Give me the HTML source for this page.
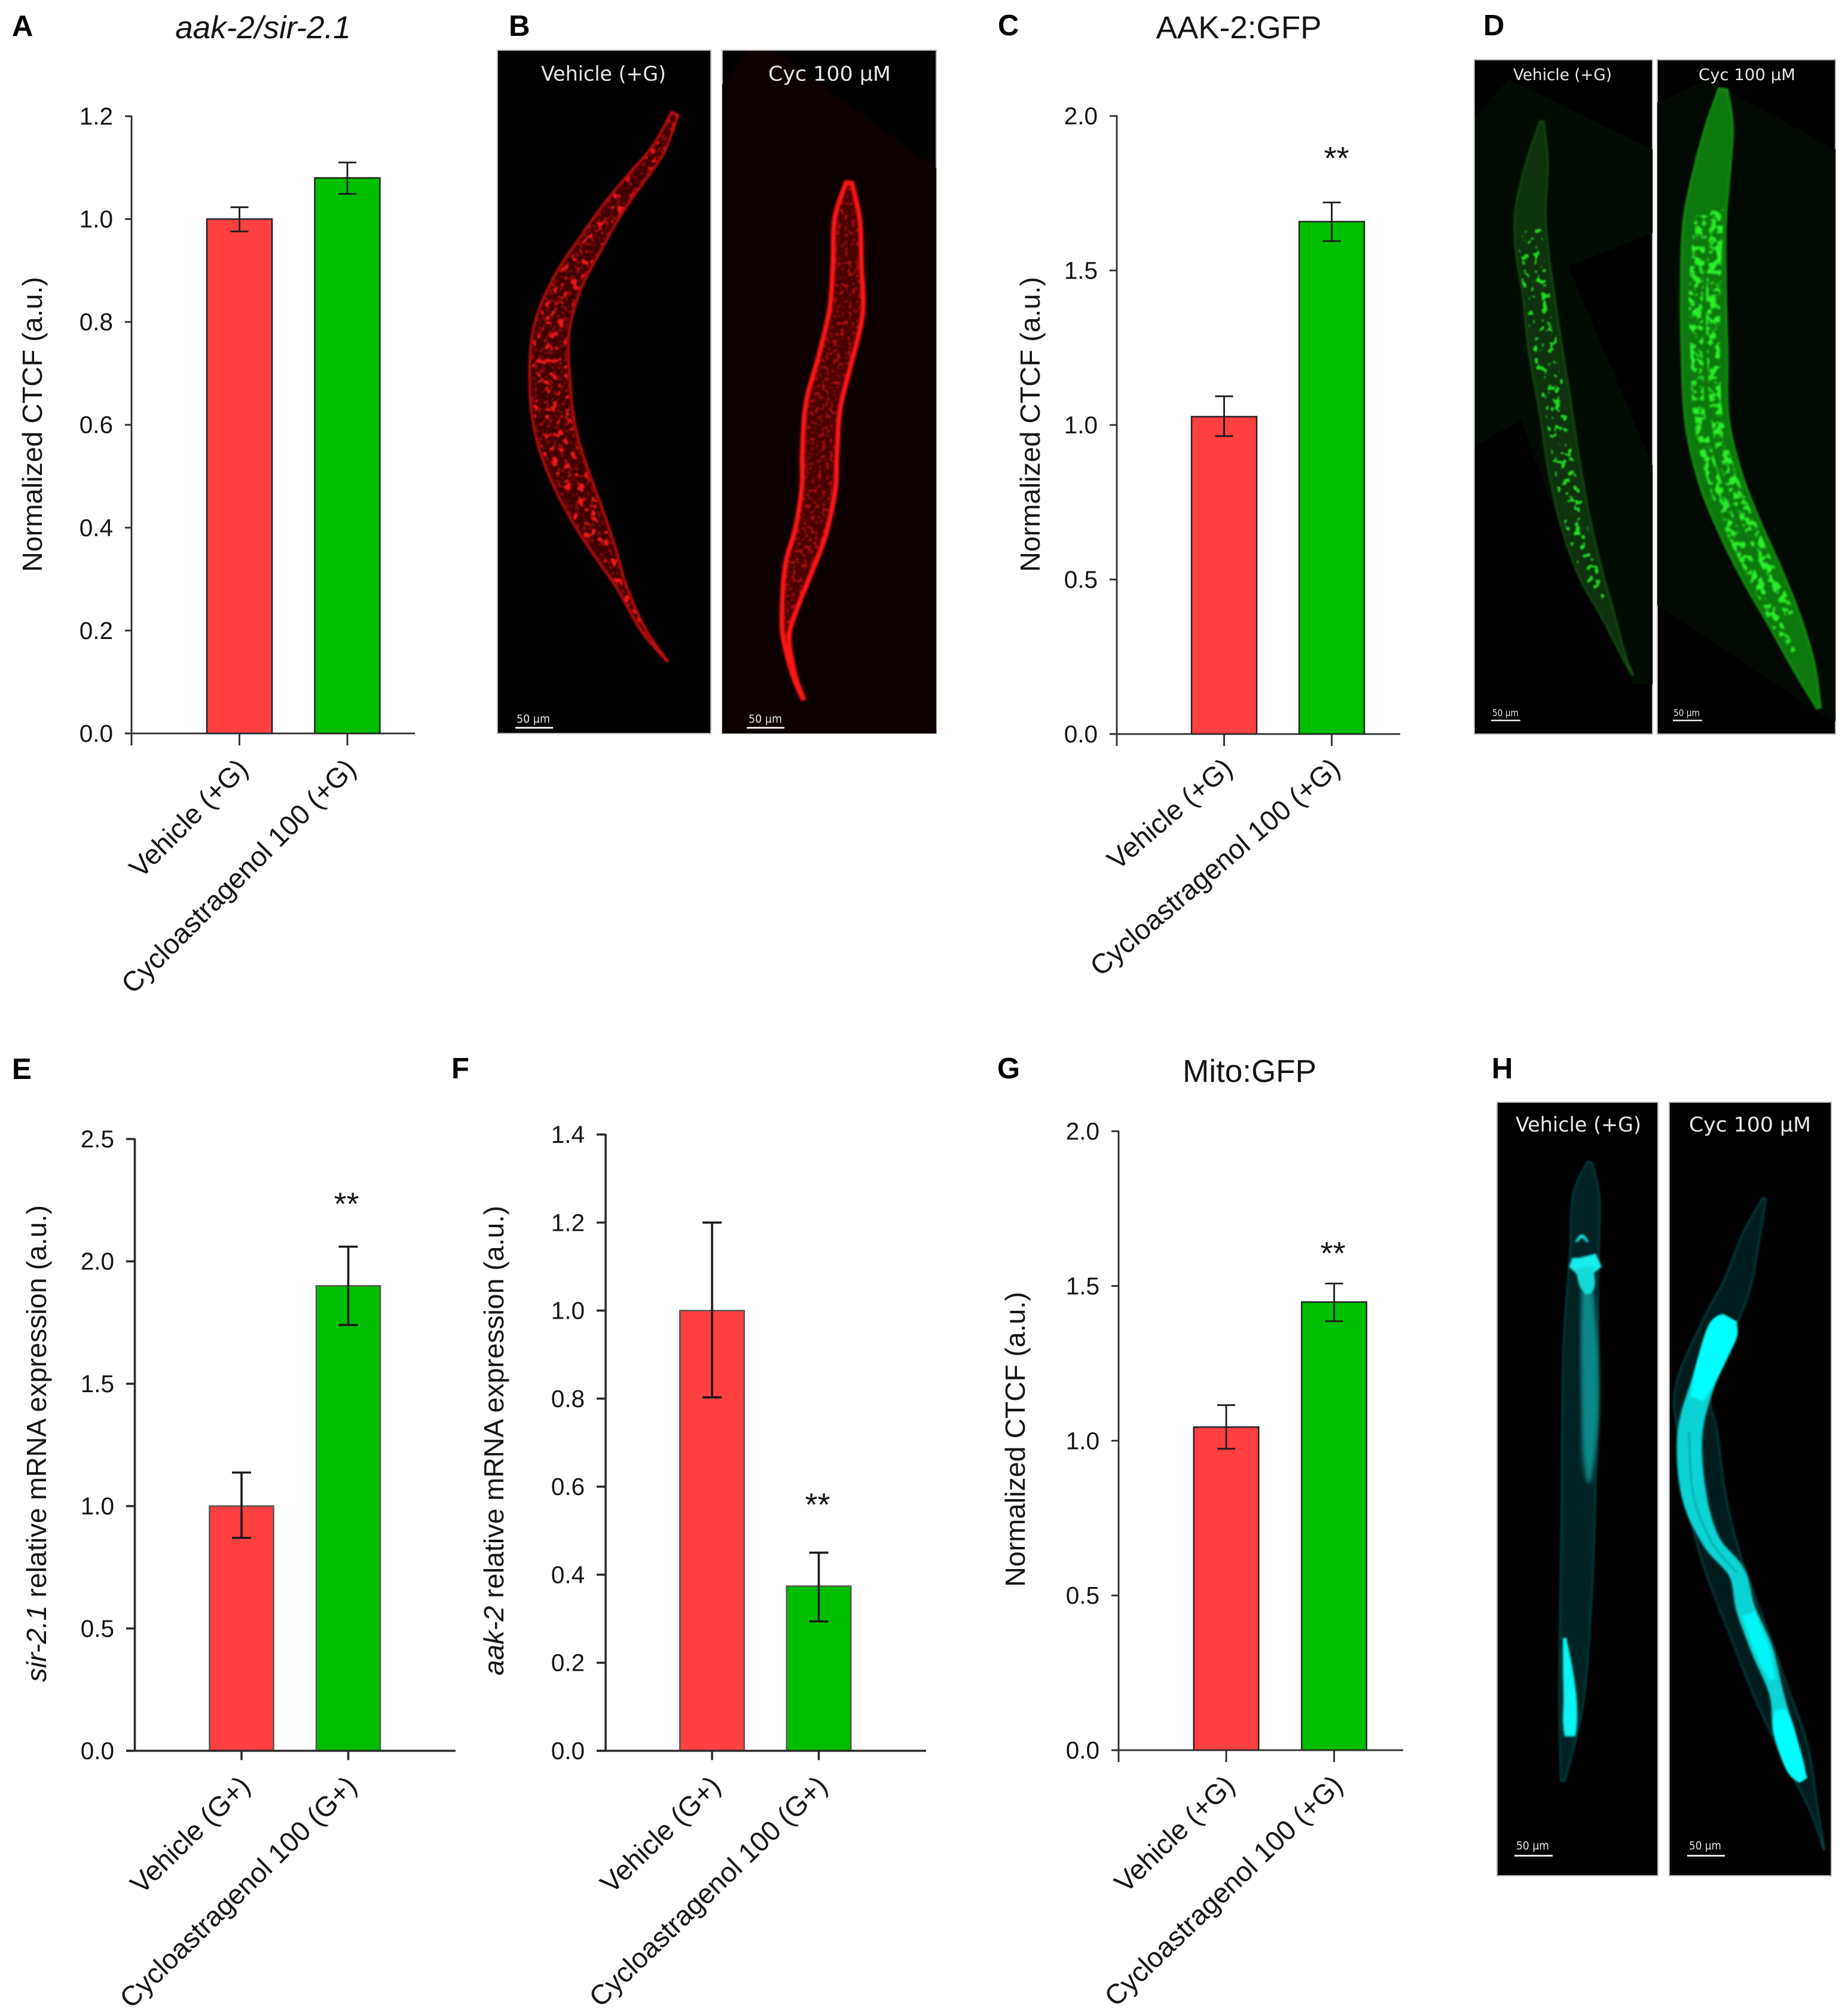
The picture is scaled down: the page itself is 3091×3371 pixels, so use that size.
<!DOCTYPE html>
<html lang="en">
<head>
<meta charset="utf-8">
<title>Cycloastragenol figure</title>
<style>
html,body{margin:0;padding:0;background:#fff}
svg{display:block}
text{font-family:"Liberation Sans",Arial,sans-serif;fill:#141414}
.micro{font-family:"DejaVu Sans",sans-serif;fill:#e8e8e8}
.letter{font-weight:700;font-size:49px;fill:#000}
.title{font-size:53px}
.ytitle{font-size:46.5px;text-anchor:middle}
</style>
</head>
<body>
<svg id="fig" xmlns="http://www.w3.org/2000/svg" width="3091" height="3371" viewBox="0 0 3091 3371">
<defs>
<clipPath id="clip-b1"><rect x="832" y="84" width="357" height="1143"/></clipPath>
<clipPath id="clip-b2"><rect x="1208" y="84" width="358" height="1143"/></clipPath>
<clipPath id="clip-d1"><rect x="2466" y="100" width="298" height="1128"/></clipPath>
<clipPath id="clip-d2"><rect x="2772" y="100" width="298" height="1128"/></clipPath>
<clipPath id="clip-h1"><rect x="2504" y="1844" width="269" height="1294"/></clipPath>
<clipPath id="clip-h2"><rect x="2792" y="1844" width="271" height="1294"/></clipPath>
<filter id="speck-fine" x="-5%" y="-5%" width="110%" height="110%" color-interpolation-filters="sRGB">
<feTurbulence type="fractalNoise" baseFrequency="0.16" numOctaves="2" seed="4"/>
<feColorMatrix values="0 0 0 0 0 0 0 0 0 0 0 0 0 0 0 1 0 0 0 0"/>
<feComponentTransfer><feFuncA type="linear" slope="10" intercept="-5.5"/></feComponentTransfer>
<feComposite in="SourceGraphic" operator="in"/>
<feGaussianBlur stdDeviation="1.2"/>
</filter>
<filter id="blob-sparse" x="-5%" y="-5%" width="110%" height="110%" color-interpolation-filters="sRGB">
<feTurbulence type="fractalNoise" baseFrequency="0.09" numOctaves="2" seed="9"/>
<feColorMatrix values="0 0 0 0 0 0 0 0 0 0 0 0 0 0 0 1 0 0 0 0"/>
<feComponentTransfer><feFuncA type="linear" slope="14" intercept="-8.2"/></feComponentTransfer>
<feComposite in="SourceGraphic" operator="in"/>
<feGaussianBlur stdDeviation="1.2"/>
</filter>
<filter id="blob-dense" x="-5%" y="-5%" width="110%" height="110%" color-interpolation-filters="sRGB">
<feTurbulence type="fractalNoise" baseFrequency="0.085" numOctaves="2" seed="12"/>
<feColorMatrix values="0 0 0 0 0 0 0 0 0 0 0 0 0 0 0 1 0 0 0 0"/>
<feComponentTransfer><feFuncA type="linear" slope="12" intercept="-5.8"/></feComponentTransfer>
<feComposite in="SourceGraphic" operator="in"/>
<feGaussianBlur stdDeviation="1.6"/>
</filter>
<filter id="soft" x="-10%" y="-10%" width="120%" height="120%"><feGaussianBlur stdDeviation="1.8"/></filter>
<filter id="soft-more" x="-10%" y="-10%" width="120%" height="120%"><feGaussianBlur stdDeviation="4"/></filter>
</defs>

<text class="letter" x="20" y="60">A</text>
<text class="letter" x="851" y="60">B</text>
<text class="letter" x="1669" y="59">C</text>
<text class="letter" x="2481" y="59">D</text>
<text class="letter" x="20" y="1805">E</text>
<text class="letter" x="755" y="1804">F</text>
<text class="letter" x="1668" y="1804">G</text>
<text class="letter" x="2495" y="1804">H</text>

<text class="title" x="440" y="64" text-anchor="middle" font-style="italic">aak-2/sir-2.1</text>
<text class="title" x="2072" y="64" text-anchor="middle">AAK-2:GFP</text>
<text class="title" x="2090" y="1810" text-anchor="middle">Mito:GFP</text>

<text class="ytitle" transform="translate(70,710) rotate(-90)">Normalized CTCF (a.u.)</text>
<text class="ytitle" transform="translate(1739,710) rotate(-90)">Normalized CTCF (a.u.)</text>
<text class="ytitle" transform="translate(77,2415) rotate(-90)"><tspan font-style="italic">sir-2.1</tspan> relative mRNA expression (a.u.)</text>
<text class="ytitle" transform="translate(842,2410) rotate(-90)"><tspan font-style="italic">aak-2</tspan> relative mRNA expression (a.u.)</text>
<text class="ytitle" transform="translate(1714,2408) rotate(-90)">Normalized CTCF (a.u.)</text>

<g id="chart-a"></g>
<g id="chart-c"></g>
<g id="chart-e"></g>
<g id="chart-f"></g>
<g id="chart-g"></g>

<!-- Micrographs -->
<g>
<rect x="832" y="84" width="357" height="1143" fill="#000" stroke="#b5b5b5" stroke-width="2"/>
<g id="worm-b1" clip-path="url(#clip-b1)"></g>
<text class="micro" x="905" y="135" font-size="34" textLength="209" lengthAdjust="spacingAndGlyphs">Vehicle (+G)</text>
<text class="micro" x="864" y="1209" font-size="19" textLength="56" lengthAdjust="spacingAndGlyphs">50 µm</text>
<rect x="862" y="1216" width="63" height="3" fill="#e8e8e8"/>
</g>
<g>
<rect x="1208" y="84" width="358" height="1143" fill="#000" stroke="#b5b5b5" stroke-width="2"/>
<polygon points="1208,141 1252,85 1295,85 1566,281 1566,1227 1208,1227" fill="#0c0000"/>
<g id="worm-b2" clip-path="url(#clip-b2)"></g>
<text class="micro" x="1285" y="135" font-size="34" textLength="205" lengthAdjust="spacingAndGlyphs">Cyc 100 µM</text>
<text class="micro" x="1252" y="1209" font-size="19" textLength="56" lengthAdjust="spacingAndGlyphs">50 µm</text>
<rect x="1249" y="1216" width="63" height="3" fill="#e8e8e8"/>
</g>
<g>
<rect x="2466" y="100" width="298" height="1128" fill="#000" stroke="#b5b5b5" stroke-width="2"/>
<polygon points="2467,196 2523,133 2764,250 2764,390 2623,445 2764,779 2764,1145 2731,1145 2585,818 2544,701 2467,748" fill="#020b02"/>
<g id="worm-d1" clip-path="url(#clip-d1)"></g>
<text class="micro" x="2531" y="134" font-size="27" textLength="165" lengthAdjust="spacingAndGlyphs">Vehicle (+G)</text>
<text class="micro" x="2496" y="1198" font-size="16" textLength="44" lengthAdjust="spacingAndGlyphs">50 µm</text>
<rect x="2494" y="1204" width="49" height="2.5" fill="#e8e8e8"/>
</g>
<g>
<rect x="2772" y="100" width="298" height="1128" fill="#000" stroke="#b5b5b5" stroke-width="2"/>
<polygon points="2772,172 2855,133 3070,250 3070,1207 3042,1192 2772,1013" fill="#020902"/>
<g id="worm-d2" clip-path="url(#clip-d2)"></g>
<text class="micro" x="2841" y="134" font-size="27" textLength="162" lengthAdjust="spacingAndGlyphs">Cyc 100 µM</text>
<text class="micro" x="2799" y="1198" font-size="16" textLength="44" lengthAdjust="spacingAndGlyphs">50 µm</text>
<rect x="2798" y="1204" width="49" height="2.5" fill="#e8e8e8"/>
</g>
<g>
<rect x="2504" y="1844" width="269" height="1294" fill="#000" stroke="#b5b5b5" stroke-width="2"/>
<g id="worm-h1" clip-path="url(#clip-h1)"></g>
<text class="micro" x="2535" y="1893" font-size="34" textLength="210" lengthAdjust="spacingAndGlyphs">Vehicle (+G)</text>
<text class="micro" x="2536" y="3094" font-size="19" textLength="55" lengthAdjust="spacingAndGlyphs">50 µm</text>
<rect x="2533" y="3103" width="64" height="3" fill="#e8e8e8"/>
</g>
<g>
<rect x="2792" y="1844" width="271" height="1294" fill="#000" stroke="#b5b5b5" stroke-width="2"/>
<g id="worm-h2" clip-path="url(#clip-h2)"></g>
<text class="micro" x="2825" y="1893" font-size="34" textLength="204" lengthAdjust="spacingAndGlyphs">Cyc 100 µM</text>
<text class="micro" x="2825" y="3094" font-size="19" textLength="54" lengthAdjust="spacingAndGlyphs">50 µm</text>
<rect x="2822" y="3103" width="63" height="3" fill="#e8e8e8"/>
</g>
</svg>

<script>
/* ---------- chart data ---------- */
const chartA_categories = ['Vehicle (+G)', 'Cycloastragenol 100 (+G)'];
const chartA_values = [1.0, 1.08];
const chartA_errHigh = [1.023, 1.11];
const chartA_errLow = [0.976, 1.049];
const chartA_ticks = [0, 0.2, 0.4, 0.6, 0.8, 1.0, 1.2];
const chartA_marks = ['', ''];

const chartC_categories = ['Vehicle (+G)', 'Cycloastragenol 100 (+G)'];
const chartC_values = [1.027, 1.658];
const chartC_errHigh = [1.093, 1.72];
const chartC_errLow = [0.964, 1.595];
const chartC_ticks = [0, 0.5, 1.0, 1.5, 2.0];
const chartC_marks = ['', '**'];

const chartE_categories = ['Vehicle (G+)', 'Cycloastragenol 100 (G+)'];
const chartE_values = [1.0, 1.9];
const chartE_errHigh = [1.137, 2.06];
const chartE_errLow = [0.87, 1.74];
const chartE_ticks = [0, 0.5, 1.0, 1.5, 2.0, 2.5];
const chartE_marks = ['', '**'];

const chartF_categories = ['Vehicle (G+)', 'Cycloastragenol 100 (G+)'];
const chartF_values = [1.0, 0.374];
const chartF_errHigh = [1.2, 0.45];
const chartF_errLow = [0.803, 0.294];
const chartF_ticks = [0, 0.2, 0.4, 0.6, 0.8, 1.0, 1.2, 1.4];
const chartF_marks = ['', '**'];

const chartG_categories = ['Vehicle (+G)', 'Cycloastragenol 100 (+G)'];
const chartG_values = [1.044, 1.448];
const chartG_errHigh = [1.115, 1.508];
const chartG_errLow = [0.974, 1.386];
const chartG_ticks = [0, 0.5, 1.0, 1.5, 2.0];
const chartG_marks = ['', '**'];

const SVGNS = 'http://www.w3.org/2000/svg';
function mk(tag, attrs, parent) {
  const el = document.createElementNS(SVGNS, tag);
  for (const k in attrs) el.setAttribute(k, attrs[k]);
  parent.appendChild(el);
  return el;
}

function drawChart(id, data, frame) {
  const root = document.getElementById(id);
  const yScale = v => frame.yBottom + (frame.yTop - frame.yBottom) * v / frame.yMax;
  const xScale = i => frame.xFirst + frame.xStep * i;
  const lineColor = frame.lineColor;
  const barFills = ['#ff4040', '#00bf00'];
  const barNames = ['vehicle', 'cycloastragenol'];

  data.values.forEach((v, i) => {
    const bar = mk('rect', {x: xScale(i) - frame.barWidth / 2, y: yScale(v), width: frame.barWidth, height: frame.yBottom - yScale(v), fill: barFills[i], stroke: frame.barStroke, 'stroke-width': 2.5}, root);
    
    
  });

  data.values.forEach((v, i) => {
    const cx = xScale(i), hi = yScale(data.errHigh[i]), lo = yScale(data.errLow[i]);
    const err = mk('path', {d: 'M' + cx + ' ' + hi + 'V' + lo + 'M' + (cx - frame.cap) + ' ' + hi + 'H' + (cx + frame.cap) + 'M' + (cx - frame.cap) + ' ' + lo + 'H' + (cx + frame.cap), stroke: '#1a1a1a', 'stroke-width': frame.lineWidth, fill: 'none'}, root);
    
    
    if (data.marks[i]) {
      const star = mk('text', {x: cx + frame.starDx, y: hi - frame.starGap + 26, 'text-anchor': 'middle', 'font-size': 54}, root);
      star.textContent = data.marks[i];
      
      
    }
  });

  const yAxis = mk('line', {x1: frame.axisX, x2: frame.axisX, y1: yScale(frame.yMax) - 1, y2: frame.yBottom + frame.axisBelow, stroke: lineColor, 'stroke-width': frame.lineWidth}, root);
  
  
  const xAxis = mk('line', {x1: frame.tickStart, x2: frame.xEnd, y1: frame.yBottom, y2: frame.yBottom, stroke: lineColor, 'stroke-width': frame.lineWidth}, root);
  
  

  data.ticks.forEach(t => {
    const yy = yScale(t);
    const tick = mk('line', {x1: frame.tickStart, x2: frame.axisX, y1: yy, y2: yy, stroke: lineColor, 'stroke-width': frame.lineWidth}, root);
    
    
    const lab = mk('text', {x: frame.tickStart - 20, y: yy + 14, 'text-anchor': 'end', 'font-size': 40.5}, root);
    lab.textContent = t.toFixed(1);
    
    
  });

  data.categories.forEach((c, i) => {
    const cx = xScale(i);
    const tick = mk('line', {x1: cx, x2: cx, y1: frame.yBottom, y2: frame.yBottom + frame.tickBelow, stroke: lineColor, 'stroke-width': frame.lineWidth}, root);
    
    
    const ax = cx + 17, ay = frame.yBottom + 62;
    const lab = mk('text', {x: 0, y: 0, 'text-anchor': 'end', 'font-size': 46.5, transform: 'translate(' + ax + ',' + ay + ') rotate(' + frame.labelAngle + ')'}, root);
    lab.textContent = c;
    
    
  });
}

drawChart('chart-a',
  {categories: chartA_categories, values: chartA_values, errHigh: chartA_errHigh, errLow: chartA_errLow, ticks: chartA_ticks, marks: chartA_marks},
  {yMax: 1.2, yBottom: 1227, yTop: 194.4, axisX: 220, tickStart: 209, xEnd: 694, xFirst: 400.5, xStep: 180.5, barWidth: 109, cap: 15, lineWidth: 2.8, lineColor: '#2c2c2c', barStroke: '#222', axisBelow: 20, tickBelow: 20, starGap: 80, starDx: 0, labelAngle: -45});
drawChart('chart-c',
  {categories: chartC_categories, values: chartC_values, errHigh: chartC_errHigh, errLow: chartC_errLow, ticks: chartC_ticks, marks: chartC_marks},
  {yMax: 2, yBottom: 1228, yTop: 194, axisX: 1868, tickStart: 1856, xEnd: 2342, xFirst: 2047.5, xStep: 180, barWidth: 109, cap: 15, lineWidth: 2.8, lineColor: '#2c2c2c', barStroke: '#222', axisBelow: 20, tickBelow: 20, starGap: 82, starDx: 8, labelAngle: -40.5});
drawChart('chart-e',
  {categories: chartE_categories, values: chartE_values, errHigh: chartE_errHigh, errLow: chartE_errLow, ticks: chartE_ticks, marks: chartE_marks},
  {yMax: 2.5, yBottom: 2929, yTop: 1905.5, axisX: 225.5, tickStart: 211, xEnd: 762, xFirst: 404, xStep: 178.5, barWidth: 107, cap: 16, lineWidth: 3.6, lineColor: '#2c2c2c', barStroke: '#555', axisBelow: 0, tickBelow: 15.5, starGap: 79, starDx: -3, labelAngle: -44.3});
drawChart('chart-f',
  {categories: chartF_categories, values: chartF_values, errHigh: chartF_errHigh, errLow: chartF_errLow, ticks: chartF_ticks, marks: chartF_marks},
  {yMax: 1.4, yBottom: 2929, yTop: 1898, axisX: 1013, tickStart: 998, xEnd: 1549, xFirst: 1191, xStep: 178.5, barWidth: 107.5, cap: 16, lineWidth: 3.6, lineColor: '#2c2c2c', barStroke: '#555', axisBelow: 0, tickBelow: 15.5, starGap: 88, starDx: -2, labelAngle: -44});
drawChart('chart-g',
  {categories: chartG_categories, values: chartG_values, errHigh: chartG_errHigh, errLow: chartG_errLow, ticks: chartG_ticks, marks: chartG_marks},
  {yMax: 2, yBottom: 2928, yTop: 1892.5, axisX: 1871, tickStart: 1859, xEnd: 2347, xFirst: 2051, xStep: 180.5, barWidth: 108.5, cap: 15, lineWidth: 2.8, lineColor: '#2c2c2c', barStroke: '#222', axisBelow: 20, tickBelow: 20, starGap: 58, starDx: -2, labelAngle: -44});

/* ---------- micrograph illustration geometry (image content, not chart data) ---------- */
function sample(pts) {
  const out = [];
  for (let i = 0; i < pts.length - 1; i++) {
    const p0 = pts[Math.max(i - 1, 0)], p1 = pts[i], p2 = pts[i + 1], p3 = pts[Math.min(i + 2, pts.length - 1)];
    for (let s = 0; s < 10; s++) {
      const t = s / 10, t2 = t * t, t3 = t2 * t;
      const f = k => 0.5 * (2 * p1[k] + (p2[k] - p0[k]) * t + (2 * p0[k] - 5 * p1[k] + 4 * p2[k] - p3[k]) * t2 + (3 * p1[k] - p0[k] - 3 * p2[k] + p3[k]) * t3);
      out.push([f(0), f(1), Math.max(f(2), 0.5)]);
    }
  }
  out.push(pts[pts.length - 1]);
  return out;
}
function outline(pts, k) {
  const s = sample(pts), L = [], R = [];
  s.forEach((p, i) => {
    const a = s[Math.max(i - 1, 0)], b = s[Math.min(i + 1, s.length - 1)];
    let dx = b[0] - a[0], dy = b[1] - a[1];
    const m = Math.hypot(dx, dy) || 1; dx /= m; dy /= m;
    const h = p[2] * k / 2;
    L.push((p[0] - dy * h).toFixed(1) + ',' + (p[1] + dx * h).toFixed(1));
    R.unshift((p[0] + dy * h).toFixed(1) + ',' + (p[1] - dx * h).toFixed(1));
  });
  return 'M' + L.join('L') + 'L' + R.join('L') + 'Z';
}
function centerPath(pts) {
  return 'M' + sample(pts).map(p => p[0].toFixed(1) + ',' + p[1].toFixed(1)).join('L');
}
function layer(g, name, attrs) {
  const el = mk('path', attrs, g);
  
  
  return el;
}

const wormB1 = [[1129,190,12],[1101,250,22],[1065,297,28],[1024,351,34],[984,414,42],[948,476,50],[922,554,60],[920,647,68],[930,725,68],[953,795,64],[984,865,54],[1014,927,36],[1040,982,16],[1075,1052,8],[1116,1106,1]];
const wormB2 = [[1420,306,10],[1417,367,42],[1417,445,48],[1415,522,56],[1397,600,56],[1377,678,58],[1371,756,58],[1369,818,56],[1356,888,52],[1336,950,46],[1320,1020,24],[1315,1067,10],[1328,1129,4],[1343,1168,1]];
const wormD1 = [[2579,203,6],[2571,273,36],[2560,351,50],[2562,414,54],[2573,491,52],[2585,585,56],[2602,686,54],[2616,779,54],[2635,873,50],[2660,958,40],[2689,1028,22],[2716,1098,6],[2731,1129,1]];
const bandD1 = [[2558,385,40],[2570,491,44],[2585,585,42],[2602,686,36],[2616,779,34],[2635,873,36],[2660,958,28],[2680,1010,12]];
const wormD2 = [[2882,149,14],[2876,211,44],[2863,289,60],[2851,375,70],[2849,476,74],[2851,585,76],[2855,701,72],[2876,795,72],[2909,880,70],[2946,958,66],[2984,1036,54],[3017,1114,36],[3042,1184,6]];
const strandD2a = [[2846,360,22],[2837,476,24],[2838,585,22],[2843,701,20],[2866,800,22],[2898,888,22],[2935,966,20],[2972,1044,18],[3000,1090,8]];
const strandD2b = [[2872,350,22],[2866,476,24],[2866,585,22],[2872,701,20],[2892,790,22],[2924,872,22],[2958,950,20],[2994,1028,16]];
const wormH1 = [[2659,1944,8],[2653,2001,44],[2650,2097,48],[2644,2237,56],[2642,2377,58],[2640,2517,56],[2636,2674,52],[2628,2849,40],[2614,2980,6]];
const bandH1 = [[2655,2160,20],[2658,2240,28],[2660,2340,30],[2658,2430,22],[2657,2480,6]];
const arcH1 = [[2636,2078,3],[2646,2068,6],[2656,2078,3]];
const patchH1a = [[2627,2112,16],[2650,2118,32],[2674,2108,24]];
const patchH1b = [[2650,2120,30],[2655,2150,26],[2656,2165,10]];
const tailH1 = [[2617,2740,6],[2622,2790,16],[2626,2840,22],[2626,2880,24],[2626,2905,18]];
const wormH2 = [[2951,2005,6],[2928,2071,30],[2905,2150,46],[2870,2228,56],[2831,2325,58],[2840,2403,66],[2854,2508,66],[2881,2613,64],[2920,2718,62],[2963,2832,58],[3002,2928,46],[3033,3024,14],[3051,3094,1]];
const bandH2 = [[2893,2205,26],[2881,2228,50],[2854,2298,40],[2827,2395,42],[2833,2499,42],[2862,2578,30],[2905,2631,28],[2920,2692,32],[2948,2762,36],[2971,2832,24],[2983,2893,34],[3002,2954,30],[3016,2978,14]];
const brightH2a = [[2893,2205,26],[2881,2228,50],[2854,2298,40],[2838,2340,22]];
const brightH2b = [[2925,2700,22],[2948,2762,24],[2965,2810,10]];
const brightH2c = [[2978,2860,18],[2983,2893,34],[3002,2954,30],[3016,2978,14]];
const lumenH2 = [[2825,2395,2],[2832,2499,2],[2862,2578,2],[2905,2631,2]];

const b1 = document.getElementById('worm-b1');
layer(b1, 'worm-body', {d: outline(wormB1, 1), fill: '#3e0303', filter: 'url(#soft)'});
layer(b1, 'worm-speckle', {d: outline(wormB1, 0.95), fill: '#8a0a0a', filter: 'url(#speck-fine)'});
layer(b1, 'worm-spots', {d: outline(wormB1, 0.9), fill: '#f01818', filter: 'url(#blob-sparse)'});
layer(b1, 'worm-edge', {d: outline(wormB1, 1), fill: 'none', stroke: '#c80e0e', 'stroke-width': 4, filter: 'url(#soft)'});

const b2 = document.getElementById('worm-b2');
layer(b2, 'worm-body', {d: outline(wormB2, 1), fill: '#4a0404', filter: 'url(#soft)'});
layer(b2, 'worm-speckle', {d: outline(wormB2, 0.95), fill: '#a80e0e', filter: 'url(#speck-fine)'});
layer(b2, 'worm-edge', {d: outline(wormB2, 1), fill: 'none', stroke: '#ff1212', 'stroke-width': 8, filter: 'url(#soft)'});

const d1 = document.getElementById('worm-d1');
layer(d1, 'worm-body', {d: outline(wormD1, 1), fill: '#083008', filter: 'url(#soft)'});
layer(d1, 'worm-edge', {d: outline(wormD1, 1), fill: 'none', stroke: '#145a14', 'stroke-width': 2.5, filter: 'url(#soft)'});
layer(d1, 'worm-granules', {d: outline(bandD1, 1), fill: '#22d822', filter: 'url(#blob-sparse)'});

const d2 = document.getElementById('worm-d2');
layer(d2, 'worm-body', {d: outline(wormD2, 1), fill: '#0b780b', filter: 'url(#soft)'});
layer(d2, 'worm-edge', {d: outline(wormD2, 1), fill: 'none', stroke: '#159a15', 'stroke-width': 3.5, filter: 'url(#soft)'});
layer(d2, 'worm-granules-left', {d: outline(strandD2a, 1), fill: '#2cf02c', filter: 'url(#blob-dense)'});
layer(d2, 'worm-granules-right', {d: outline(strandD2b, 1), fill: '#2cf02c', filter: 'url(#blob-dense)'});

const h1 = document.getElementById('worm-h1');
layer(h1, 'worm-body', {d: outline(wormH1, 1), fill: '#032020', filter: 'url(#soft)'});
layer(h1, 'worm-edge', {d: outline(wormH1, 1), fill: 'none', stroke: '#074c4c', 'stroke-width': 2.5, filter: 'url(#soft)'});
layer(h1, 'worm-intestine', {d: outline(bandH1, 1), fill: '#0b8888', filter: 'url(#soft-more)'});
layer(h1, 'worm-arc', {d: outline(arcH1, 1), fill: '#12e0e0', filter: 'url(#soft)'});
layer(h1, 'worm-pharynx-glow', {d: outline(patchH1a, 1), fill: '#12eded', filter: 'url(#soft)'});
layer(h1, 'worm-pharynx-glow', {d: outline(patchH1b, 1), fill: '#12d8d8', filter: 'url(#soft)'});
layer(h1, 'worm-tail-glow', {d: outline(tailH1, 1), fill: '#08f4f4', filter: 'url(#soft)'});

const h2 = document.getElementById('worm-h2');
layer(h2, 'worm-body', {d: outline(wormH2, 1), fill: '#021e1e', filter: 'url(#soft)'});
layer(h2, 'worm-edge', {d: outline(wormH2, 1), fill: 'none', stroke: '#074c4c', 'stroke-width': 2.5, filter: 'url(#soft)'});
layer(h2, 'worm-intestine', {d: outline(bandH2, 1), fill: '#0ad4d4', filter: 'url(#soft)'});
layer(h2, 'worm-lumen', {d: centerPath(lumenH2), fill: 'none', stroke: '#06a0a0', 'stroke-width': 2.5, filter: 'url(#soft)'});
layer(h2, 'worm-glow-anterior', {d: outline(brightH2a, 1), fill: '#00ffff', filter: 'url(#soft)'});
layer(h2, 'worm-glow-middle', {d: outline(brightH2b, 1), fill: '#00f6f6', filter: 'url(#soft)'});
layer(h2, 'worm-glow-posterior', {d: outline(brightH2c, 1), fill: '#00ffff', filter: 'url(#soft)'});
</script>
</body>
</html>
